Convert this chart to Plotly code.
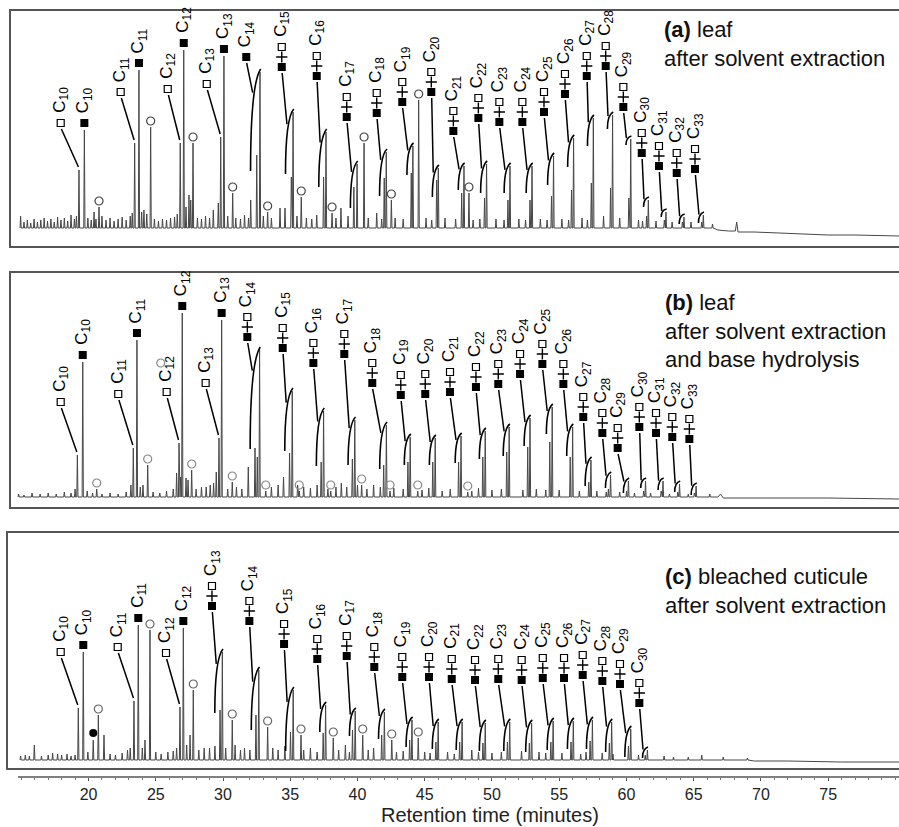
import plotly.graph_objects as go

# ---------------------------------------------------------------
# DATA
# retention time in minutes, intensity in arbitrary units above baseline
# ---------------------------------------------------------------

# ---- panel (a) leaf after solvent extraction ----
a_single_n = [10, 11, 12, 13]
a_alkene_t = [19.29, 23.43, 26.82, 29.83]
a_alkene_h = [58, 85, 85, 91]
a_alkane_t = [19.69, 23.75, 27.08, 30.07]
a_alkane_h = [98, 158, 178, 172]
a_dbl_n = [14, 15, 16, 17, 18, 19, 20, 21, 22, 23, 24, 25, 26, 27, 28, 29, 30, 31, 32, 33]
a_dbl_kind = ['a'] + ['ae'] * 19
a_dbl_t = [32.75, 35.21, 37.66, 39.97, 42.14, 44.12, 46.01, 47.92, 49.60, 51.34,
           52.98, 54.58, 56.07, 57.54, 58.97, 60.32, 61.63, 62.94, 64.28, 65.72]
a_dbl_h = [156, 116, 96, 64, 76, 82, 60, 62, 64, 62, 62, 72, 90, 110, 113, 89, 28, 16, 11, 13]
a_pre_t = [32.51, 35.08, 37.48, 39.73, 41.99, 44.00, 45.89, 47.75, 49.45, 51.19,
           52.83, 54.43, 55.92, 57.39, 58.82, 60.18, 61.50, 62.82, 64.16, 65.60]
a_pre_h = [73, 51, 51, 41, 50, 55, 48, 35, 30, 28, 28, 32, 38, 45, 40, 30, 12, 8, 6, 6]
a_circ_t = [20.78, 24.62, 27.77, 30.72, 33.32, 35.82, 38.11, 40.49, 42.52, 44.55, 48.29]
a_circ_h = [21, 101, 85, 35, 16, 31, 15, 85, 28, 128, 35]
a_minor = [(14.95, 12), (15.2, 6), (15.45, 8), (15.7, 5), (15.95, 9), (16.2, 6), (16.45, 8),
           (16.7, 10), (16.95, 7), (17.2, 9), (17.45, 6), (17.7, 11), (17.95, 8), (18.2, 10),
           (18.45, 7), (18.7, 13), (18.95, 9), (19.1, 12), (19.95, 10), (20.2, 8), (20.41, 16),
           (20.55, 9), (21.0, 12), (21.3, 8), (21.6, 10), (21.9, 7), (22.2, 9), (22.5, 11),
           (22.8, 8), (23.1, 12), (23.25, 15), (23.95, 16), (24.12, 18), (24.33, 14), (24.9, 9),
           (25.2, 7), (25.5, 9), (25.8, 8), (26.1, 10), (26.4, 11), (26.6, 14), (27.25, 21),
           (27.47, 33), (27.6, 28), (28.1, 10), (28.4, 9), (28.7, 12), (29.0, 10), (29.28, 18),
           (29.65, 25), (30.35, 12), (30.95, 10), (31.3, 9), (31.6, 13), (31.9, 10), (32.06, 28),
           (33.0, 12), (33.6, 10), (34.24, 20), (34.61, 20), (35.5, 12), (36.2, 10), (36.6, 9),
           (36.97, 13), (38.4, 10), (38.77, 20), (39.3, 12), (40.8, 10), (41.43, 15), (41.8, 9),
           (42.8, 10), (43.4, 9), (45.1, 10), (45.52, 8), (46.51, 10), (47.3, 9), (48.6, 8),
           (49.1, 9), (50.3, 9), (50.9, 8), (52.0, 9), (52.5, 8), (53.6, 9), (54.1, 8), (55.2, 9),
           (55.7, 8), (56.7, 10), (57.1, 8), (58.3, 12), (59.5, 10), (60.9, 8), (61.2, 7),
           (62.2, 7), (63.4, 6), (64.8, 6), (66.4, 4)]
a_tail = [(66.8, -2), (67.6, -3), (68.1, -3), (68.2, 6), (68.3, -4), (69.5, -4), (71.0, -5),
          (73.0, -6), (75.0, -7), (77.0, -7), (80.3, -8)]
# label placement (a)
a_lab_e_t = [17.93, 22.39, 25.89, 28.79]
a_lab_e_h = [105, 136, 139, 144]
a_lab_t = [31.73, 34.37, 36.97, 39.20, 41.43, 43.33, 45.49, 47.13, 48.99, 50.55,
           52.26, 53.87, 55.43, 57.05, 58.46, 59.77, 61.14, 62.42, 63.74, 65.10]
a_lab_h = [171, 161, 152, 111, 115, 126, 136, 97, 110, 106, 106, 116, 134, 152, 162, 121, 75, 62, 55, 59]
a_arc = [102, 65, 58, 47, 47, 32, 32, 27, 32, 30, 30, 32, 32, 31, 17, 9, 10, 8, 10, 11]

# ---- panel (b) leaf after solvent extraction and base hydrolysis ----
b_single_n = [10, 11, 12, 13]
b_alkene_t = [19.17, 23.33, 26.73, 29.70]
b_alkene_h = [42, 49, 54, 59]
b_alkane_t = [19.57, 23.60, 26.97, 29.90]
b_alkane_h = [135, 157, 184, 177]
b_dbl_n = [14, 15, 16, 17, 18, 19, 20, 21, 22, 23, 24, 25, 26, 27, 28, 29, 30, 31, 32, 33]
b_dbl_kind = ['ae'] * 20
b_dbl_t = [32.72, 35.15, 37.48, 39.80, 42.15, 43.92, 45.78, 47.70, 49.50, 51.28,
           52.83, 54.48, 56.00, 57.36, 58.82, 60.15, 61.42, 62.72, 63.95, 65.18]
b_dbl_h = [147, 106, 86, 77, 72, 60, 59, 61, 66, 70, 79, 90, 70, 37, 22, 16, 16, 16, 13, 11]
b_pre_t = [32.38, 34.95, 37.30, 39.62, 41.95, 43.75, 45.60, 47.52, 49.32, 51.10,
           52.66, 54.30, 55.82, 57.20, 58.66, 60.01, 61.28, 62.58, 63.82, 65.05]
b_pre_h = [49, 44, 35, 38, 32, 35, 35, 35, 40, 45, 50, 55, 40, 15, 8, 6, 6, 6, 5, 4]
b_circ_t = [20.61, 24.40, 27.67, 30.69, 33.18, 35.67, 38.01, 40.31, 42.42, 44.48, 48.20]
b_circ_h = [8, 32, 27, 15, 6, 6, 6, 12, 6, 6, 5]
b_extra_circ = [(25.37, 134)]
b_minor = [(14.8, 3), (15.2, 2), (15.8, 4), (16.4, 3), (17.0, 4), (17.6, 3), (18.2, 5), (18.7, 4),
           (19.0, 8), (19.9, 6), (20.3, 4), (21.0, 3), (21.6, 4), (22.2, 3), (22.8, 5), (23.15, 12),
           (23.85, 10), (24.05, 12), (24.8, 5), (25.3, 4), (25.8, 6), (26.3, 8), (26.55, 24),
           (26.85, 20), (27.25, 19), (27.4, 17), (28.0, 8), (28.4, 10), (28.75, 10), (29.05, 12),
           (29.3, 14), (29.5, 25), (30.35, 8), (31.0, 10), (31.4, 8), (31.88, 30), (32.55, 40),
           (33.6, 10), (34.1, 12), (34.5, 20), (35.55, 12), (36.0, 10), (36.5, 9), (37.0, 12),
           (37.8, 8), (38.4, 10), (38.8, 14), (39.2, 10), (40.0, 12), (40.7, 8), (41.2, 12),
           (41.7, 10), (42.7, 9), (43.4, 8), (44.8, 7), (45.3, 9), (46.3, 6), (46.9, 8), (48.5, 6),
           (49.0, 9), (50.0, 7), (50.7, 8), (52.3, 7), (53.3, 8), (54.0, 7), (55.0, 7), (56.5, 6),
           (57.8, 6), (58.5, 5), (59.5, 5), (60.6, 4), (61.8, 4), (63.2, 3), (64.6, 3), (66.2, 3)]
b_tail = [(66.8, 0), (67.0, 3), (67.2, -1), (70.0, -1), (75.0, -1), (80.3, -2)]
b_lab_e_t = [17.93, 22.21, 25.81, 28.71]
b_lab_e_h = [95, 103, 105, 114]
b_lab_t = [31.81, 34.44, 36.72, 39.02, 41.10, 43.22, 45.04, 46.88, 48.81, 50.47,
           52.09, 53.75, 55.31, 56.79, 58.21, 59.35, 60.96, 62.20, 63.41, 64.68]
b_lab_h = [160, 149, 134, 143, 114, 102, 103, 105, 110, 113, 123, 133, 113, 80, 64, 49, 70, 64, 60, 58]
b_arc = [102, 63, 58, 48, 47, 31, 30, 30, 31, 32, 31, 30, 32, 29, 16, 15, 10, 12, 11, 12]

# ---- panel (c) bleached cuticule after solvent extraction ----
c_single_n = [10, 11, 12]
c_alkene_t = [19.24, 23.38, 26.80]
c_alkene_h = [52, 59, 53]
c_alkane_t = [19.61, 23.70, 27.05]
c_alkane_h = [108, 135, 132]
c_dbl_n = [13, 14, 15, 16, 17, 18, 19, 20, 21, 22, 23, 24, 25, 26, 27, 28, 29, 30]
c_dbl_kind = ['ae'] * 18
c_dbl_t = [29.95, 32.66, 35.22, 37.63, 39.83, 42.00, 44.05, 46.00, 47.78, 49.50,
           51.32, 52.95, 54.55, 56.05, 57.47, 58.90, 60.32, 61.56]
c_dbl_h = [108, 90, 70, 55, 49, 48, 40, 38, 38, 37, 38, 37, 39, 39, 40, 38, 31, 10]
c_pre_t = [29.78, 32.45, 35.02, 37.45, 39.63, 41.80, 43.88, 45.83, 47.60, 49.33,
           51.15, 52.78, 54.38, 55.88, 57.30, 58.73, 60.15, 61.40]
c_pre_h = [50, 45, 28, 27, 30, 25, 20, 18, 18, 17, 18, 17, 18, 18, 19, 17, 14, 5]
c_circ_t = [20.73, 24.57, 27.79, 30.69, 33.32, 35.80, 38.20, 40.39, 42.55, 44.52]
c_circ_h = [45, 130, 70, 40, 33, 25, 22, 25, 20, 22]
c_dot_t = [20.35]
c_dot_h = [20]
c_minor = [(14.95, 4), (15.3, 5), (15.6, 4), (15.97, 15), (16.5, 4), (17.0, 5), (17.33, 7),
           (17.7, 6), (18.0, 5), (18.4, 6), (18.7, 4), (19.0, 5), (19.95, 8), (21.15, 25),
           (21.6, 6), (22.0, 5), (22.5, 7), (22.9, 10), (23.1, 12), (24.0, 12), (24.2, 20),
           (25.0, 8), (25.4, 6), (25.9, 8), (26.3, 9), (26.55, 12), (27.3, 15), (27.55, 25),
           (28.2, 10), (28.6, 12), (29.0, 12), (29.4, 14), (30.2, 12), (30.9, 15), (31.3, 10),
           (31.6, 12), (32.0, 10), (33.7, 12), (34.1, 10), (34.6, 14), (36.0, 10), (36.5, 12),
           (37.0, 8), (38.6, 10), (39.1, 15), (39.4, 8), (40.8, 10), (41.2, 12), (42.9, 8),
           (43.4, 9), (45.0, 8), (45.4, 7), (46.7, 8), (47.2, 6), (48.5, 10), (49.0, 8), (50.0, 7),
           (50.7, 8), (52.2, 9), (53.5, 8), (54.0, 7), (55.2, 7), (56.6, 6), (57.0, 8), (58.2, 7),
           (59.0, 6), (60.9, 5), (62.8, 4), (63.5, 3), (64.6, 3), (65.6, 5), (67.2, 3), (69.0, 2)]
c_tail = [(69.5, -1), (72.0, -1), (76.0, -2), (80.3, -2)]
c_lab_e_t = [17.93, 22.17, 25.76]
c_lab_e_h = [108, 113, 107]
c_lab_t = [29.18, 31.96, 34.54, 37.01, 39.20, 41.25, 43.33, 45.32, 47.01, 48.74,
           50.47, 52.21, 53.78, 55.36, 56.75, 58.21, 59.52, 60.96]
c_lab_h = [154, 139, 116, 101, 104, 93, 83, 83, 81, 80, 81, 80, 82, 82, 85, 79, 76, 57]
c_arc = [64, 63, 64, 30, 28, 30, 30, 30, 31, 31, 32, 32, 32, 31, 32, 33, 31, 11]

panel_titles = ["<b>(a)</b> leaf<br>after solvent extraction",
                "<b>(b)</b> leaf<br>after solvent extraction<br>and base hydrolysis",
                "<b>(c)</b> bleached cuticule<br>after solvent extraction"]
x_ticks = [20, 25, 30, 35, 40, 45, 50, 55, 60, 65, 70, 75]
x_title = "Retention time (minutes)"

# ---------------------------------------------------------------
# LAYOUT / STYLE
# ---------------------------------------------------------------
W, H = 899, 827
ML = 10
X_RANGE = [14.16, 80.27]
PX = (W - ML) / (X_RANGE[1] - X_RANGE[0])   # pixels per minute
HW = 0.045
FONT = "Liberation Sans, Arial, Helvetica, sans-serif"
GEOM = [dict(top=10, bottom=247, base=228, left=10, tx=662, ty=15),
        dict(top=272, bottom=508, base=497, left=10, tx=663, ty=288),
        dict(top=532, bottom=769, base=760, left=7, tx=663, ty=562)]
AXIS_Y = 777
AXIS_LEFT = 18
CIRC_COLORS = ['#444', '#888', '#666']

panels = [
    dict(sn=a_single_n, et=a_alkene_t, eh=a_alkene_h, at=a_alkane_t, ah=a_alkane_h,
         dn=a_dbl_n, kind=a_dbl_kind, dt=a_dbl_t, dh=a_dbl_h, pt=a_pre_t, ph=a_pre_h,
         ct=a_circ_t, ch=a_circ_h, minor=a_minor, tail=a_tail, let=a_lab_e_t, leh=a_lab_e_h,
         lt=a_lab_t, lh=a_lab_h, arc=a_arc, dots=[], extra=[]),
    dict(sn=b_single_n, et=b_alkene_t, eh=b_alkene_h, at=b_alkane_t, ah=b_alkane_h,
         dn=b_dbl_n, kind=b_dbl_kind, dt=b_dbl_t, dh=b_dbl_h, pt=b_pre_t, ph=b_pre_h,
         ct=b_circ_t, ch=b_circ_h, minor=b_minor, tail=b_tail, let=b_lab_e_t, leh=b_lab_e_h,
         lt=b_lab_t, lh=b_lab_h, arc=b_arc, dots=[], extra=b_extra_circ),
    dict(sn=c_single_n, et=c_alkene_t, eh=c_alkene_h, at=c_alkane_t, ah=c_alkane_h,
         dn=c_dbl_n, kind=c_dbl_kind, dt=c_dbl_t, dh=c_dbl_h, pt=c_pre_t, ph=c_pre_h,
         ct=c_circ_t, ch=c_circ_h, minor=c_minor, tail=c_tail, let=c_lab_e_t, leh=c_lab_e_h,
         lt=c_lab_t, lh=c_lab_h, arc=c_arc, dots=list(zip(c_dot_t, c_dot_h)), extra=[]),
]

fig = go.Figure()
shapes = []
annotations = []


def bez(p0, c, p1, s):
    return ((1 - s) ** 2 * p0[0] + 2 * s * (1 - s) * c[0] + s * s * p1[0],
            (1 - s) ** 2 * p0[1] + 2 * s * (1 - s) * c[1] + s * s * p1[1])


for i, (p, g) in enumerate(zip(panels, GEOM), start=1):
    xr = 'x' if i == 1 else f'x{i}'
    yr = 'y' if i == 1 else f'y{i}'

    # ---- chromatogram trace ----
    peaks = (list(zip(p['et'], p['eh'])) + list(zip(p['at'], p['ah'])) +
             list(zip(p['dt'], p['dh'])) + list(zip(p['pt'], p['ph'])) +
             list(zip(p['ct'], p['ch'])) + p['minor'] + p['dots'])
    peaks.sort()
    xs, ys = [], []
    for t, h in peaks:
        xs += [t - HW, t, t + HW]
        ys += [0, h, 0]
    for t, y in p['tail']:
        xs.append(t)
        ys.append(y)
    fig.add_trace(go.Scatter(x=xs, y=ys, mode='lines', xaxis=xr, yaxis=yr,
                             line=dict(color='#474747', width=1), hoverinfo='skip',
                             showlegend=False))

    sq_x, sq_y, op_x, op_y, pl_x, pl_y = [], [], [], [], [], []

    def label_text(n, x, y):
        annotations.append(dict(x=x, y=y, xref=xr, yref=yr, text=f"C<sub>{n}</sub>",
                                showarrow=False, textangle=-90, xanchor='center',
                                yanchor='bottom',
                                font=dict(size=17, color='black', family=FONT)))

    def seg(x0, y0, x1, y1, w=1.5):
        shapes.append(dict(type='line', xref=xr, yref=yr, x0=x0, y0=y0, x1=x1, y1=y1,
                           line=dict(color='black', width=w)))

    # alkene singles (open square) with leader lines
    for n, t, h, lt, lh in zip(p['sn'], p['et'], p['eh'], p['let'], p['leh']):
        op_x.append(lt)
        op_y.append(lh)
        label_text(n, lt, lh + 8)
        seg(lt + 0.05, lh - 6, t - 0.04, h + 3)
    # alkane singles (filled square) sitting on the peak
    for n, t, h in zip(p['sn'], p['at'], p['ah']):
        sq_x.append(t)
        sq_y.append(h + 7)
        label_text(n, t, h + 15)
    # doublets with bracket arcs
    for n, kind, t, h, lt, lh, L in zip(p['dn'], p['kind'], p['dt'], p['dh'],
                                        p['lt'], p['lh'], p['arc']):
        sq_x.append(lt)
        sq_y.append(lh)
        top = lh
        if kind == 'ae':
            pl_x.append(lt)
            pl_y.append(lh + 10)
            op_x.append(lt)
            op_y.append(lh + 20)
            top = lh + 20
        label_text(n, lt, top + 8)
        x1, y1 = t + 0.05, h + 3
        dx = (5 + 0.05 * L) / PX
        x0, y0 = x1 - dx, y1 - L
        cx, cy = x0, y0 + 0.85 * L
        shapes.append(dict(type='path', xref=xr, yref=yr,
                           path=f"M {x0},{y0} Q {cx},{cy} {x1},{y1}",
                           line=dict(color='black', width=1.6)))
        ex, ey = bez((x0, y0), (cx, cy), (x1, y1), 0.6)
        seg(lt + 0.03, lh - 6, ex - 1.5 / PX, ey)

    common = dict(mode='markers', xaxis=xr, yaxis=yr, hoverinfo='skip', showlegend=False)
    fig.add_trace(go.Scatter(x=sq_x, y=sq_y, marker=dict(symbol='square', size=8, color='black'),
                             **common))
    fig.add_trace(go.Scatter(x=op_x, y=op_y,
                             marker=dict(symbol='square-open', size=7, color='black',
                                         line=dict(width=1.2, color='black')), **common))
    if pl_x:
        fig.add_trace(go.Scatter(x=pl_x, y=pl_y,
                                 marker=dict(symbol='cross-thin', size=8, color='black',
                                             line=dict(width=1.4, color='black')), **common))
    cxs = list(p['ct']) + [e[0] for e in p['extra']]
    cys = [h + 6 for h in p['ch']] + [e[1] for e in p['extra']]
    fig.add_trace(go.Scatter(x=cxs, y=cys,
                             marker=dict(symbol='circle-open', size=8, color=CIRC_COLORS[i - 1],
                                         line=dict(width=1.2, color=CIRC_COLORS[i - 1])), **common))
    if p['dots']:
        fig.add_trace(go.Scatter(x=[d[0] for d in p['dots']], y=[d[1] + 7 for d in p['dots']],
                                 marker=dict(symbol='circle', size=8, color='black'), **common))

    # ---- axes / frame / title ----
    dom = [(H - g['bottom']) / H, (H - g['top']) / H]
    yrange = [-(g['bottom'] - g['base']), g['base'] - g['top']]
    fig.layout[f'yaxis{"" if i == 1 else i}'] = dict(domain=dom, range=yrange, visible=False,
                                                     fixedrange=True)
    shapes.append(dict(type='rect', xref='paper', yref='paper',
                       x0=(g['left'] - ML) / (W - ML), x1=1.02, y0=dom[0], y1=dom[1],
                       line=dict(color='#555', width=2), layer='below'))
    annotations.append(dict(x=(g['tx'] - ML) / (W - ML), y=(H - g['ty']) / H, xref='paper',
                            yref='paper', text=panel_titles[i - 1], showarrow=False,
                            xanchor='left', yanchor='top', align='left',
                            font=dict(size=22, color='#111', family=FONT)))

# bottom time axis line (starts a little right of the frames)
shapes.append(dict(type='line', xref='paper', yref='paper', x0=(AXIS_LEFT - ML) / (W - ML),
                   x1=1.0, y0=(H - AXIS_Y) / H, y1=(H - AXIS_Y) / H,
                   line=dict(color='#555', width=1.5)))

fig.update_layout(
    xaxis=dict(range=X_RANGE, domain=[0, 1], visible=False, anchor='y', fixedrange=True),
    xaxis2=dict(range=X_RANGE, domain=[0, 1], visible=False, anchor='y2', fixedrange=True),
    xaxis3=dict(range=X_RANGE, domain=[0, 1], anchor='free', position=(H - AXIS_Y) / H,
                showline=False, ticks='outside', ticklen=3,
                tickcolor='#555', tickwidth=1, tickvals=x_ticks, showgrid=False, zeroline=False,
                fixedrange=True, tickfont=dict(size=16, color='#222', family=FONT),
                minor=dict(dtick=1, ticklen=2, tickcolor='#777', ticks='outside')),
)

annotations.append(dict(x=(490 - ML) / (W - ML), y=0, xref='paper', yref='paper',
                        text=x_title, showarrow=False, xanchor='center', yanchor='bottom',
                        borderpad=0, font=dict(size=20, color='#222', family=FONT)))

fig.update_layout(width=W, height=H, margin=dict(l=ML, r=0, t=0, b=0),
                  paper_bgcolor='white', plot_bgcolor='rgba(0,0,0,0)',
                  shapes=shapes, annotations=annotations, showlegend=False)

fig.write_html("out.html", post_script="document.body.style.margin='0';",
               config={'displayModeBar': False})
